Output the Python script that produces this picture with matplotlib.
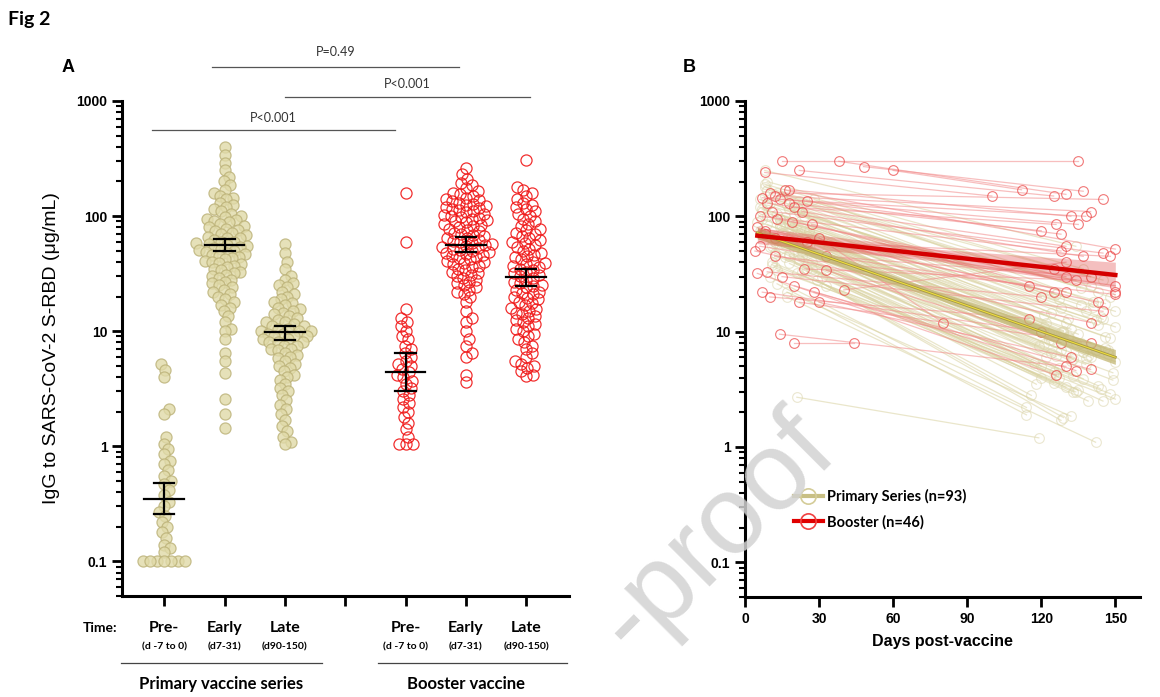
import numpy as np
import matplotlib
matplotlib.use('Agg')
import matplotlib.pyplot as plt
from matplotlib.lines import Line2D
from matplotlib.transforms import blended_transform_factory as btf

# ---------------- Panel A data ----------------
time_labels = ['Pre-', 'Early', 'Late', 'Pre-', 'Early', 'Late']
time_sub = ['(d -7 to 0)', '(d7-31)', '(d90-150)', '(d -7 to 0)', '(d7-31)', '(d90-150)']
group_pos = [1, 2, 3, 5, 6, 7]

pre_primary = [5.2, 4.6, 4.0, 2.1, 1.9, 1.2, 1.05, 0.95, 0.85, 0.75, 0.7, 0.62, 0.55,
               0.5, 0.47, 0.42, 0.38, 0.33, 0.3, 0.27, 0.25, 0.22, 0.2, 0.18, 0.16,
               0.14, 0.13, 0.12, 0.1, 0.1, 0.1, 0.1, 0.1, 0.1, 0.1]
early_primary = [400, 340, 290, 250, 220, 200, 185, 170, 160, 150, 145, 140, 130, 125,
                 120, 115, 110, 105, 100, 98, 95, 92, 90, 88, 85, 82, 80, 78, 76, 74,
                 72, 70, 68, 66, 65, 64, 62, 60, 59, 58, 57, 56, 55, 54, 53, 52, 51,
                 50, 49, 48, 47, 46, 45, 44, 43, 42, 41, 40, 39, 38, 37, 36, 35, 34,
                 33, 32, 31, 30, 29, 28, 27, 26, 25, 24, 23, 22, 21, 20, 19, 18, 17,
                 16, 15, 13.5, 12, 10.5, 10, 8.5, 6.5, 5.5, 4.3, 2.6, 1.9, 1.45]
late_primary = [57, 48, 40, 35, 30, 28, 26, 25, 24, 22, 21, 20, 19, 18, 17.5, 17, 16,
                15.5, 15, 14.5, 14, 13.5, 13, 12.5, 12, 12, 11.5, 11, 11, 10.5, 10.5,
                10, 10, 10, 9.5, 9.5, 9, 9, 9, 8.5, 8.5, 8, 8, 8, 7.5, 7.5, 7, 7, 6.8,
                6.5, 6.2, 6, 5.8, 5.5, 5.2, 5, 4.8, 4.5, 4.2, 4, 3.8, 3.5, 3.2, 3, 2.8,
                2.5, 2.3, 2.1, 1.9, 1.7, 1.5, 1.35, 1.2, 1.1, 1.05]
pre_booster = [158, 60, 15.5, 13, 12, 11, 10, 9, 8.5, 7.5, 7, 6.5, 6, 5.5, 5.2, 5, 4.7,
               4.4, 4.2, 4, 3.7, 3.5, 3.2, 3, 2.8, 2.6, 2.4, 2.2, 2, 1.8, 1.6, 1.4,
               1.2, 1.05, 1.05, 1.05]
early_booster = [262, 230, 210, 195, 185, 175, 165, 160, 155, 150, 145, 140, 137, 135,
                 130, 128, 126, 122, 120, 118, 115, 112, 110, 108, 105, 102, 100, 98,
                 97, 95, 92, 90, 88, 86, 84, 82, 80, 78, 76, 74, 72, 70, 68, 67, 65,
                 64, 62, 61, 60, 58, 57, 56, 55, 54, 53, 52, 51, 50, 49, 48, 47, 46,
                 45, 44, 43, 42, 41, 40, 39, 38, 37, 36, 35, 34, 33, 32, 31, 30, 29,
                 28, 27, 26, 25, 24, 23, 22, 21, 20, 18, 15, 13, 12, 10, 8.5, 7.5,
                 6.5, 6, 4.2, 3.6]
late_booster = [310, 180, 170, 160, 150, 140, 130, 125, 120, 115, 110, 105, 100, 95,
                90, 86, 82, 78, 75, 72, 70, 67, 65, 62, 60, 58, 56, 54, 52, 50, 48,
                46, 45, 44, 42, 40, 39, 38, 37, 36, 35, 34, 33, 32, 31, 30, 29, 28,
                27, 26, 25, 24.5, 24, 23, 22, 21.5, 21, 20, 19.5, 19, 18, 17.5, 17,
                16, 15.5, 15, 14.5, 14, 13.5, 13, 12.5, 12, 11.5, 11, 10.5, 10, 9.5,
                9, 8.5, 8, 7.5, 7, 6.5, 6, 5.5, 5.2, 5, 4.8, 4.5, 4.2, 4.1]
group_values = [pre_primary, early_primary, late_primary,
                pre_booster, early_booster, late_booster]
gmean = [0.35, 56, 9.9, 4.4, 56, 29.5]
ci_lo = [0.26, 50, 8.4, 3.0, 49, 24.5]
ci_hi = [0.48, 63, 11.2, 6.4, 66, 35]

p_labels = ['P<0.001', 'P=0.49', 'P<0.001']

# ---------------- Panel B data ----------------
prim_d0 = [6, 9, 12, 15, 18, 21, 24, 27, 30, 8,
           11, 14, 17, 20, 23, 26, 7, 10, 13, 16,
           19, 22, 25, 28, 33, 5, 9, 12, 15, 18,
           21, 24, 8, 11, 14, 17, 20, 23, 6, 10,
           13, 16, 19, 22, 25, 29, 35, 7, 9, 12,
           15, 18, 21, 24, 27, 8, 11, 14, 17, 20,
           23, 6, 10, 13, 16, 19, 22, 26, 31, 9,
           12, 15, 18, 21, 7, 10, 13, 16, 19, 22,
           25, 8, 11, 14, 17, 20, 6, 9, 12, 15,
           18, 21, 24]
prim_v0 = [120, 85, 60, 150, 45, 70, 100, 35, 55, 180,
           40, 95, 65, 130, 50, 75, 110, 30, 160, 58,
           88, 42, 68, 140, 25, 90, 200, 48, 72, 115,
           2.7, 62, 250, 38, 80, 125, 52, 33, 140, 66,
           105, 44, 78, 135, 57, 28, 60, 95, 170, 36,
           82, 47, 120, 64, 40, 150, 55, 92, 20, 70,
           45, 75, 130, 34, 86, 58, 110, 50, 30, 100,
           62, 145, 39, 76, 115, 54, 26, 98, 68, 43,
           35, 190, 63, 84, 22, 105, 70, 125, 46, 59,
           88, 32, 74]
prim_d1 = [130, 142, 125, 148, 118, 136, 128, 145, 122, 140,
           133, 150, 120, 138, 127, 146, 131, 114, 143, 124,
           135, 149, 119, 141, 129, 132, 137, 126, 147, 121,
           119, 139, 134, 144, 123, 128, 150, 116, 136, 130,
           142, 125, 148, 127, 133, 128, 140, 121, 145, 135,
           131, 149, 124, 137, 143, 126, 138, 129, 142, 146,
           120, 134, 141, 148, 123, 132, 144, 127, 139, 122,
           147, 136, 130, 125, 150, 117, 114, 143, 128, 137,
           134, 140, 126, 131, 132, 145, 121, 146, 133, 138,
           129, 150, 124]
prim_v1 = [12, 7, 4.5, 20, 3.5, 8, 10, 2.5, 6, 25,
           3, 11, 5, 15, 4, 9, 13, 2.2, 22, 6.5,
           9.5, 3.8, 7.5, 18, 1.8, 10.5, 35, 4.2, 7, 14,
           1.2, 6.2, 55, 3.2, 8.5, 16, 5.5, 2.8, 17, 6.8,
           12.5, 3.6, 8.8, 19, 5.8, 1.7, 6, 11, 28, 3.1,
           9, 4.4, 14.5, 6.6, 3.4, 21, 5.2, 10, 1.1, 7.2,
           4, 8, 16.5, 2.9, 9.8, 5.6, 13.5, 4.8, 2.5, 12,
           6.4, 24, 3.3, 8.2, 15, 5.4, 1.9, 11.5, 7, 3.9,
           3, 30, 6.1, 9.2, 1.85, 12.8, 7.8, 17.5, 4.1, 5.9,
           10.2, 2.6, 8.4]

boost_d0 = [15, 8, 22, 38, 48, 60, 10, 12, 14, 7, 18, 20, 25, 9, 16, 11, 23, 6, 13, 19,
            5, 27, 8, 30, 6, 4, 12, 24, 9, 15, 33, 5, 20, 28, 7, 10, 22, 30, 14, 20,
            40, 25, 12, 33, 8, 18]
boost_v0 = [300, 240, 250, 300, 270, 250, 160, 150, 140, 145, 130, 120, 135, 130, 170,
            110, 110, 100, 95, 90, 80, 85, 75, 65, 55, 50, 45, 35, 33, 30, 34, 32, 25,
            22, 22, 20, 18, 18, 9.5, 8, 23, 60, 65, 45, 70, 170]
boost_d1 = [135, 100, 125, 130, 137, 112, 145, 140, 138, 135, 120, 126, 128, 130, 150,
            145, 137, 128, 130, 150, 143, 130, 125, 80, 115, 140, 150, 134, 120, 145,
            128, 126, 134, 140, 120, 115, 140, 132, 130, 44, 130, 148, 125, 140, 150, 132]
boost_v1 = [300, 150, 150, 155, 165, 170, 140, 110, 100, 85, 75, 85, 70, 55, 52, 48,
            45, 50, 30, 22, 18, 22, 22, 12, 25, 12, 21, 28, 20, 15, 8, 4.2, 4.6, 4.7,
            10, 13, 8, 6, 5, 8, 40, 45, 35, 30, 25, 100]

fit_days = [5, 77, 150]
prim_fit = [72, 21, 6]
prim_fit_lo = [64, 19.5, 5.2]
prim_fit_hi = [80, 22.8, 7.0]
boost_fit = [68, 46, 31]
boost_fit_lo = [58, 41, 24]
boost_fit_hi = [80, 52, 40]

legend_labels = ['Primary Series (n=93)', 'Booster (n=46)']

# ---------------- style ----------------
TAN_EDGE = '#bbb177'
TAN_FACE = '#e0daa8'
RED = '#f01818'
ARIAL = 'Liberation Sans'
CAL = 'Lato'

W, H = 1160, 697
fig = plt.figure(figsize=(W / 100, H / 100), dpi=100)


def ax_rect(l, t, r, b):
    return [l / W, 1 - b / H, (r - l) / W, (b - t) / H]


def style_log_axis(ax):
    ax.set_yscale('log')
    ax.set_ylim(0.05, 1000)
    ax.set_yticks([0.1, 1, 10, 100, 1000])
    ax.set_yticklabels(['0.1', '1', '10', '100', '1000'])
    ax.yaxis.set_minor_locator(matplotlib.ticker.LogLocator(base=10, subs=np.arange(2, 10)))
    ax.yaxis.set_minor_formatter(matplotlib.ticker.NullFormatter())
    for s in ['top', 'right']:
        ax.spines[s].set_visible(False)
    for s in ['left', 'bottom']:
        ax.spines[s].set_linewidth(2.2)
    ax.tick_params(axis='both', which='major', length=7, width=2, direction='out')
    ax.tick_params(axis='y', which='minor', length=4, width=1.5)
    for lab in ax.get_yticklabels():
        lab.set_fontfamily(ARIAL)
        lab.set_fontweight('bold')
        lab.set_fontsize(10)


# ================= Panel A =================
axA = fig.add_axes(ax_rect(122, 101, 569, 596))
style_log_axis(axA)
axA.set_xlim(0.30, 7.71)
axA.set_xticks([1, 2, 3, 4, 5, 6, 7])
axA.set_xticklabels([])
axA.set_ylabel('IgG to SARS-CoV-2 S-RBD (\u03bcg/mL)', fontfamily=ARIAL,
               fontsize=14, labelpad=12)

fig.canvas.draw()
px_per_unit_x = axA.transData.transform((2, 1))[0] - axA.transData.transform((1, 1))[0]


def swarm(vals, d):
    ypix = np.array([axA.transData.transform((1, v))[1] for v in vals])
    order = np.argsort(ypix)
    px_list, py_list = [], []
    xs = np.zeros(len(vals))
    for i in order:
        y = ypix[i]
        near = [(a, b) for a, b in zip(px_list, py_list) if abs(b - y) < d]
        cands = [0.0]
        for a, b in near:
            dx = np.sqrt(d * d - (b - y) ** 2)
            cands += [a + dx, a - dx]
        cands.sort(key=abs)
        for c in cands:
            if all((c - a) ** 2 + (y - b) ** 2 >= d * d - 1e-6 for a, b in near):
                xs[i] = c
                break
        px_list.append(xs[i])
        py_list.append(y)
    return xs / px_per_unit_x


for k, (pos, vals) in enumerate(zip(group_pos, group_values)):
    off = swarm(vals, 7.0)
    if k < 3:
        axA.plot(pos + off, vals, 'o', ms=8, mfc=TAN_FACE, mec=TAN_EDGE, mew=0.9,
                 alpha=0.8, zorder=2, clip_on=False)
    else:
        axA.plot(pos + off, vals, 'o', ms=8, mfc='none', mec=RED, mew=0.9,
                 alpha=0.9, zorder=2, clip_on=False)
    axA.plot([pos - 0.33, pos + 0.33], [gmean[k]] * 2, color='black', lw=1.6, zorder=5)
    axA.plot([pos, pos], [ci_lo[k], ci_hi[k]], color='black', lw=1.6, zorder=5)
    for c in (ci_lo[k], ci_hi[k]):
        axA.plot([pos - 0.17, pos + 0.17], [c, c], color='black', lw=1.6, zorder=5)

trA = btf(axA.transData, axA.transAxes)
brackets = [(0.80, 4.83, 0.941, 0.965), (1.80, 5.88, 1.069, 1.100), (3.00, 7.07, 1.008, 1.034)]
for (x0, x1, yl, yt), lab in zip(brackets, p_labels):
    axA.plot([x0, x1], [yl, yl], color='#555555', lw=0.9, transform=trA, clip_on=False)
    axA.text((x0 + x1) / 2, yt, lab, transform=trA, ha='center', va='center',
             fontfamily=CAL, fontsize=9, color='#333333')

for pos, lab, sub in zip(group_pos, time_labels, time_sub):
    axA.text(pos, -0.064, lab, transform=trA, ha='center', va='center',
             fontfamily=CAL, fontweight='bold', fontsize=11.5)
    axA.text(pos, -0.103, sub, transform=trA, ha='center', va='center',
             fontfamily=CAL, fontweight='bold', fontsize=7.5)
axA.text(0.22, -0.064, 'Time:', transform=trA, ha='right', va='center',
         fontfamily=CAL, fontweight='bold', fontsize=10)
axA.plot([0.29, 3.62], [-0.135, -0.135], transform=trA, color='#444444', lw=0.9, clip_on=False)
axA.plot([4.55, 7.67], [-0.135, -0.135], transform=trA, color='#444444', lw=0.9, clip_on=False)
axA.text(1.95, -0.178, 'Primary vaccine series', transform=trA, ha='center', va='center',
         fontfamily=CAL, fontweight='bold', fontsize=12)
axA.text(6.0, -0.178, 'Booster vaccine', transform=trA, ha='center', va='center',
         fontfamily=CAL, fontweight='bold', fontsize=12)

# ================= Panel B =================
axB = fig.add_axes(ax_rect(745, 101, 1140, 597))
style_log_axis(axB)
axB.set_xlim(0, 160)
axB.set_xticks([0, 30, 60, 90, 120, 150])
for lab in axB.get_xticklabels():
    lab.set_fontfamily(ARIAL)
    lab.set_fontweight('bold')
    lab.set_fontsize(10)
axB.set_xlabel('Days post-vaccine', fontfamily=ARIAL, fontweight='bold', fontsize=11.5,
               labelpad=6)

for d0, v0, d1, v1 in zip(prim_d0, prim_v0, prim_d1, prim_v1):
    axB.plot([d0, d1], [v0, v1], '-', color='#d9d2a0', lw=0.9, alpha=0.55, zorder=2)
    axB.plot([d0, d1], [v0, v1], 'o', ms=7, mfc='none', mec='#ddd7b0', mew=0.8,
             alpha=0.6, zorder=2)
for d0, v0, d1, v1 in zip(boost_d0, boost_v0, boost_d1, boost_v1):
    axB.plot([d0, d1], [v0, v1], '-', color='#f28a8a', lw=0.9, alpha=0.55, zorder=3)
    axB.plot([d0, d1], [v0, v1], 'o', ms=7, mfc='none', mec='#ec4a4a', mew=0.8,
             alpha=0.75, zorder=3)

axB.fill_between(fit_days, prim_fit_lo, prim_fit_hi, color='#c2b672', alpha=0.75,
                 lw=0, zorder=4)
axB.plot(fit_days, prim_fit, color='#a89a48', lw=2.0, zorder=5)
axB.plot(fit_days, prim_fit, color='#f2e23c', lw=0.7, zorder=6)
axB.fill_between(fit_days, boost_fit_lo, boost_fit_hi, color='#e04848', alpha=0.35,
                 lw=0, zorder=4)
axB.plot(fit_days, boost_fit, color='#d40000', lw=3.2, zorder=6)

handles = [Line2D([0], [0], color='#c8bf84', lw=3, marker='o', ms=11, mfc='none',
                  mec='#d4cc98', mew=1.2),
           Line2D([0], [0], color='#e00000', lw=3, marker='o', ms=11, mfc='none',
                  mec='#f04040', mew=1.2)]
leg = axB.legend(handles, legend_labels, loc='upper left', bbox_to_anchor=(0.09, 0.245),
                 frameon=False, handlelength=2.0, handletextpad=0.3, labelspacing=0.75,
                 prop={'family': CAL, 'weight': 'bold', 'size': 10.5})

# ================= labels =================
fig.text(8 / W, 1 - 20 / H, 'Fig 2', fontfamily=CAL, fontweight='bold', fontsize=14,
         ha='left', va='center')
fig.text(62 / W, 1 - 68 / H, 'A', fontfamily=ARIAL, fontweight='bold', fontsize=13,
         ha='left', va='center')
fig.text(683 / W, 1 - 68 / H, 'B', fontfamily=ARIAL, fontweight='bold', fontsize=13,
         ha='left', va='center')

# watermark
fig.text(716 / W, 1 - 535 / H, '-proof', fontfamily='Liberation Sans', fontsize=80,
         color='#d2d2d2', alpha=0.85, rotation=45, ha='center', va='center', zorder=0)

fig.savefig('out.png', dpi=100)
